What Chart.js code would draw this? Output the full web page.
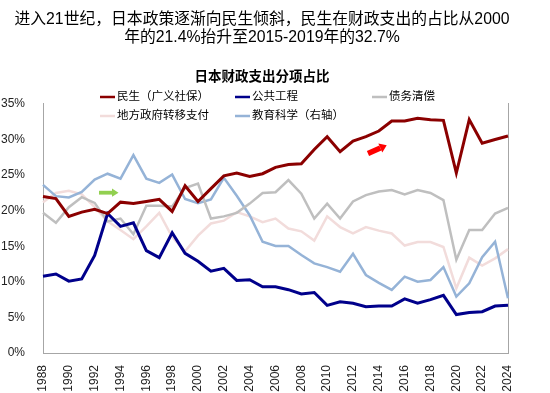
<!DOCTYPE html>
<html>
<head>
<meta charset="utf-8">
<script src="https://cdn.jsdelivr.net/npm/chart.js@4"></script>
<style>
  body { margin: 0; background: #fff; }
  #wrap { width: 550px; height: 393px; }
</style>
</head>
<body>
<div id="wrap"><canvas id="chart" width="550" height="393"></canvas></div>
<script>
// Données (en %)
const years = ['1988','1989','1990','1991','1992','1993','1994','1995','1996','1997',
  '1998','1999','2000','2001','2002','2003','2004','2005','2006','2007',
  '2008','2009','2010','2011','2012','2013','2014','2015','2016','2017',
  '2018','2019','2020','2021','2022','2023','2024'];

const minsheng = [22.0, 21.7, 19.2, 19.8, 20.2, 19.6, 21.2, 21.0, 21.3, 21.6,
  19.9, 23.5, 21.3, 23.1, 24.9, 25.3, 24.8, 25.2, 26.1, 26.5,
  26.6, 28.6, 30.4, 28.3, 29.8, 30.4, 31.2, 32.6, 32.6, 33.0,
  32.8, 32.7, 25.3, 32.8, 29.5, 30.0, 30.5];

const gonggong = [10.8, 11.1, 10.1, 10.4, 13.7, 19.6, 17.8, 18.3, 14.4, 13.4,
  16.9, 14.0, 12.9, 11.5, 11.9, 10.2, 10.3, 9.3, 9.3, 8.9,
  8.3, 8.5, 6.7, 7.2, 7.0, 6.5, 6.6, 6.6, 7.6, 7.0,
  7.5, 8.1, 5.4, 5.7, 5.8, 6.6, 6.7];

const zhaiwu = [19.7, 18.3, 20.5, 21.9, 21.1, 18.5, 18.9, 16.7, 20.7, 20.7,
  20.6, 23.2, 23.8, 18.9, 19.2, 19.7, 21.0, 22.5, 22.6, 24.3,
  22.4, 18.9, 21.0, 18.9, 21.3, 22.2, 22.7, 22.9, 22.3, 22.9,
  22.5, 21.5, 13.1, 17.3, 17.3, 19.6, 20.4];

const difang = [21.2, 22.5, 22.8, 22.3, 20.5, 18.5, 17.3, 16.0, 17.8, 19.7,
  16.3, 14.3, 16.5, 18.2, 18.6, 19.8, 19.2, 18.4, 18.9, 17.5,
  17.1, 15.8, 19.2, 17.7, 16.8, 17.7, 17.2, 16.8, 15.1, 15.6,
  15.6, 14.9, 9.1, 13.4, 12.3, 13.3, 14.6];

// 教育科学（右轴）
const jiaoyu = [8.05, 7.78, 7.75, 7.88, 8.18, 8.32, 8.2, 8.77, 8.2, 8.1,
  8.3, 7.71, 7.61, 7.70, 8.22, 7.79, 7.32, 6.68, 6.58, 6.58,
  6.36, 6.16, 6.07, 5.96, 6.39, 5.88, 5.69, 5.52, 5.84, 5.72,
  5.76, 6.07, 5.36, 5.68, 6.31, 6.68, 5.32];

const seriesNames = ['民生（广义社保）', '公共工程', '债务清偿', '地方政府转移支付', '教育科学（右轴）'];
const seriesColors = ['#8B0000', '#00008B', '#BFBFBF', '#F2DCDB', '#95B3D7'];

const headline = ['进入21世纪，日本政策逐渐向民生倾斜，民生在财政支出的占比从2000',
  '年的21.4%抬升至2015-2019年的32.7%'];
const chartTitle = '日本财政支出分项占比';

const latin = '"Liberation Sans", Arial, "Noto Sans CJK SC", sans-serif';
const cjk = '"Liberation Sans", "Noto Sans CJK SC", sans-serif';

// Légende en grille + flèches
const overlayPlugin = {
  id: 'overlay',
  afterDraw(chart) {
    const ctx = chart.ctx;
    ctx.save();
    const slots = [
      [100, 97], [235, 97], [372, 97],
      [100, 116], [235, 116]
    ];
    ctx.font = '11.5px ' + cjk;
    ctx.textBaseline = 'middle';
    ctx.fillStyle = '#000';
    seriesNames.forEach((name, i) => {
      const [x, y] = slots[i];
      ctx.strokeStyle = seriesColors[i];
      ctx.lineWidth = 2.5;
      ctx.beginPath();
      ctx.moveTo(x, y);
      ctx.lineTo(x + 15, y);
      ctx.stroke();
      ctx.fillText(name, x + 17, y);
    });

    // flèche verte
    ctx.fillStyle = '#92D050';
    ctx.fillRect(99, 190.8, 13, 3.8);
    ctx.beginPath();
    ctx.moveTo(112, 188.6);
    ctx.lineTo(118.5, 192.7);
    ctx.lineTo(112, 196.8);
    ctx.closePath();
    ctx.fill();

    // flèche rouge
    ctx.translate(368, 153.5);
    ctx.rotate(-0.42);
    ctx.fillStyle = '#FF0000';
    ctx.fillRect(0, -2.7, 13.5, 5.4);
    ctx.beginPath();
    ctx.moveTo(13.5, -4.8);
    ctx.lineTo(20.5, 0);
    ctx.lineTo(13.5, 4.8);
    ctx.closePath();
    ctx.fill();
    ctx.restore();
  }
};

function lineSet(label, data, color, width, axis) {
  return {
    label: label,
    data: data,
    borderColor: color,
    backgroundColor: color,
    borderWidth: width,
    pointRadius: 0,
    tension: 0,
    yAxisID: axis
  };
}

const ctx = document.getElementById('chart').getContext('2d');
new Chart(ctx, {
  type: 'line',
  data: {
    labels: years,
    datasets: [
      lineSet(seriesNames[0], minsheng, seriesColors[0], 3, 'y'),
      lineSet(seriesNames[1], gonggong, seriesColors[1], 3, 'y'),
      lineSet(seriesNames[2], zhaiwu, seriesColors[2], 2.5, 'y'),
      lineSet(seriesNames[4], jiaoyu, seriesColors[4], 2.5, 'y2'),
      lineSet(seriesNames[3], difang, seriesColors[3], 2.5, 'y')
    ]
  },
  options: {
    responsive: false,
    animation: false,
    devicePixelRatio: 1,
    layout: { padding: { left: 0, right: 26, top: 0, bottom: 0 } },
    plugins: {
      legend: { display: false },
      tooltip: { enabled: false },
      title: {
        display: true,
        text: headline,
        color: '#000',
        font: { family: cjk, size: 15.8, weight: 'normal', lineHeight: 1.12 },
        padding: { top: 11, bottom: 0 }
      },
      subtitle: {
        display: true,
        text: chartTitle,
        color: '#000',
        font: { family: cjk, size: 13.5, weight: 'bold', lineHeight: 1.2 },
        padding: { top: 23, bottom: 18.4 }
      }
    },
    scales: {
      x: {
        type: 'category',
        offset: false,
        grid: { display: false },
        border: { color: '#A6A6A6', width: 1 },
        ticks: {
          autoSkip: false,
          minRotation: 90,
          maxRotation: 90,
          padding: 4,
          color: '#222',
          font: { family: latin, size: 12 },
          callback: function(v, i) { return i % 2 === 0 ? years[i] : ''; }
        },
        afterFit(scale) { scale.height = 40; }
      },
      y: {
        position: 'left',
        min: 0,
        max: 35,
        grid: { display: false },
        border: { color: '#A6A6A6', width: 1 },
        ticks: {
          stepSize: 5,
          padding: 10,
          color: '#222',
          font: { family: latin, size: 12 },
          callback: v => v + '%'
        },
        afterFit(scale) { scale.width = 43; }
      },
      y2: {
        position: 'right',
        min: 4,
        max: 10,
        grid: { display: false },
        border: { color: '#A6A6A6', width: 1 },
        ticks: {
          stepSize: 1,
          padding: 10,
          color: '#222',
          font: { family: latin, size: 12 },
          callback: v => v + '%'
        },
        afterFit(scale) { scale.width = 16; }
      }
    }
  },
  plugins: [overlayPlugin]
});
</script>
</body>
</html>
